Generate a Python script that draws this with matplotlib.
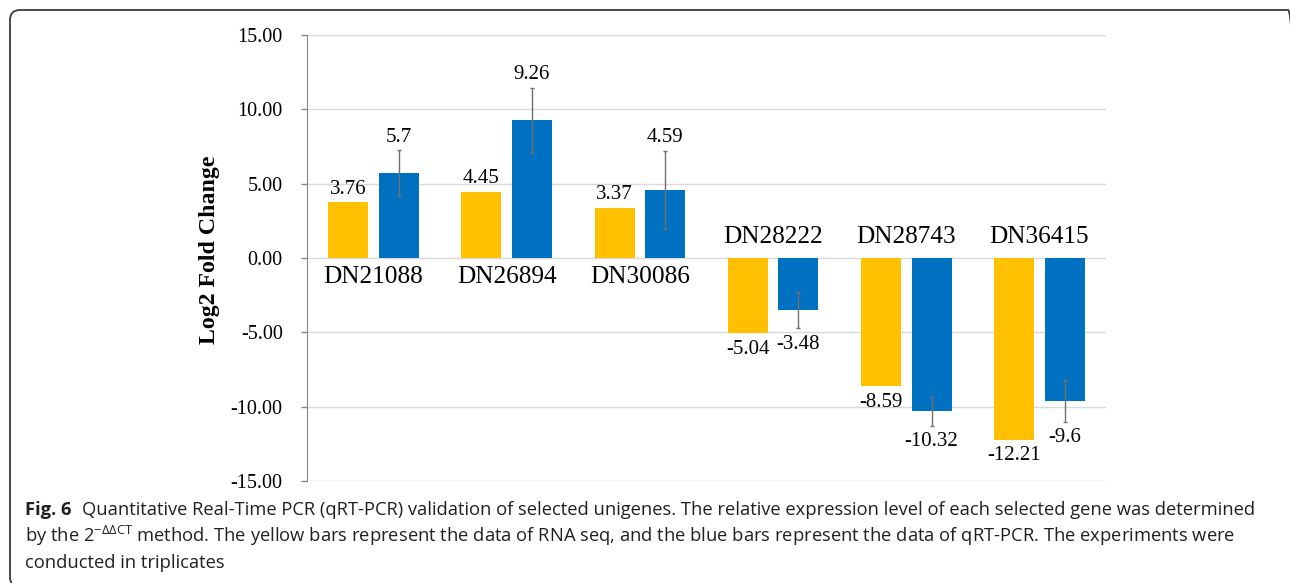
import matplotlib
matplotlib.use('Agg')
import matplotlib.pyplot as plt
import numpy as np
from matplotlib.patches import FancyBboxPatch
from matplotlib.transforms import IdentityTransform
from matplotlib.ticker import FuncFormatter

genes = ['DN21088', 'DN26894', 'DN30086', 'DN28222', 'DN28743', 'DN36415']
rna_seq = [3.76, 4.45, 3.37, -5.04, -8.59, -12.21]
qrt_pcr = [5.7, 9.26, 4.59, -3.48, -10.32, -9.6]
qrt_err = [1.55, 2.2, 2.63, 1.2, 0.95, 1.4]
yticks = [-15, -10, -5, 0, 5, 10, 15]

W, H = 1290, 583
plt.rcParams['mathtext.fontset'] = 'custom'
plt.rcParams['mathtext.rm'] = 'Open Sans'

fig = plt.figure(figsize=(W / 100, H / 100), dpi=100)
ax = fig.add_axes([307 / W, 1 - 481 / H, 799 / W, 446 / H])

serif = 'Liberation Serif'
yellow = '#FFC000'
blue = '#0070C0'
x = np.arange(len(genes))
bw = 0.30
off = 0.19

ax.bar(x - off, rna_seq, bw, color=yellow, zorder=2)
ax.bar(x + off, qrt_pcr, bw, color=blue, zorder=2)
ax.errorbar(x + off, qrt_pcr, yerr=qrt_err, fmt='none', ecolor='#707070',
            elinewidth=1, capsize=1.5, capthick=1, zorder=3)

ax.set_xlim(-0.5, len(genes) - 0.5)
ax.set_ylim(-15, 15)
ax.set_yticks(yticks)
ax.yaxis.set_major_formatter(FuncFormatter(lambda v, p: f'{v:.2f}'))
ax.set_xticks([])
ax.grid(axis='y', color='#d9d9d9', lw=1, zorder=0)
for s in ['top', 'right', 'bottom']:
    ax.spines[s].set_visible(False)
ax.spines['left'].set_color('#868686')
ax.tick_params(axis='y', direction='out', length=4.5, width=1, color='#868686',
               pad=13, labelsize=14.5)
for lab in ax.get_yticklabels():
    lab.set_fontfamily(serif)

# data labels
for i in range(len(genes)):
    for val, err, dx in [(rna_seq[i], 0, -off), (qrt_pcr[i], qrt_err[i], off)]:
        end = val + err if val > 0 else val - err
        if val > 0:
            ax.annotate(f'{val}', (i + dx, end), xytext=(0, 2.5), textcoords='offset points',
                        ha='center', va='bottom', fontsize=15, family=serif)
        else:
            ax.annotate(f'{val}', (i + dx, end), xytext=(0, -5), textcoords='offset points',
                        ha='center', va='top', fontsize=15, family=serif)

# category labels next to zero line
for i, g in enumerate(genes):
    if rna_seq[i] > 0:
        ax.annotate(g, (i, 0), xytext=(0, -6), textcoords='offset points',
                    ha='center', va='top', fontsize=18.2, family=serif)
    else:
        ax.annotate(g, (i, 0), xytext=(0, 7), textcoords='offset points',
                    ha='center', va='bottom', fontsize=18.2, family=serif)

fig.text(209 / W, 1 - 250 / H, 'Log2 Fold Change', rotation=90, ha='center', va='center',
         fontsize=17.2, fontweight='bold', family=serif)

# caption
cap_size = 13.2
fig.canvas.draw()
r = fig.canvas.get_renderer()
t1 = fig.text(25 / W, 1 - 515 / H, 'Fig. 6', fontsize=cap_size, fontweight='bold',
              family='Open Sans', va='baseline', color='#231f20')
bb = t1.get_window_extent(r)
fig.text((bb.x1 + 11) / W, 1 - 515 / H,
         'Quantitative Real-Time PCR (qRT-PCR) validation of selected unigenes. The relative '
         'expression level of each selected gene was determined',
         fontsize=cap_size, family='Open Sans', va='baseline', color='#231f20')
fig.text(25 / W, 1 - 542 / H,
         r'by the 2$^{\mathregular{−ΔΔCT}}$ method. The yellow bars represent the data of RNA seq, '
         'and the blue bars represent the data of qRT-PCR. The experiments were',
         fontsize=cap_size, family='Open Sans', va='baseline', color='#231f20')
fig.text(25 / W, 1 - 568 / H, 'conducted in triplicates',
         fontsize=cap_size, family='Open Sans', va='baseline', color='#231f20')

border = FancyBboxPatch((10, -4), 1288, 577, boxstyle='round,pad=0,rounding_size=10',
                        transform=IdentityTransform(), fill=False, edgecolor='#3a3a3a', lw=1.3)
fig.add_artist(border)

fig.savefig('out.png', dpi=100)
